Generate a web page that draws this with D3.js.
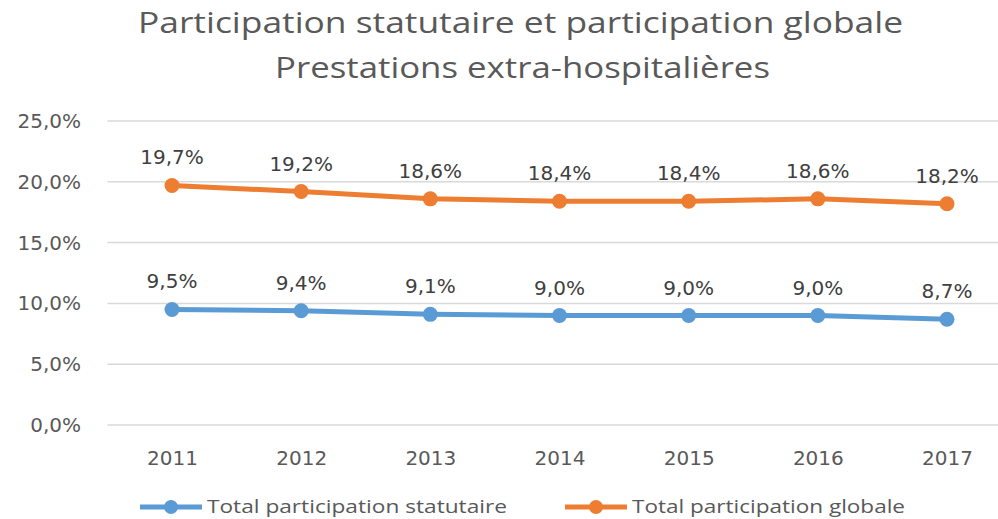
<!DOCTYPE html>
<html>
<head>
<meta charset="utf-8">
<script src="https://cdn.jsdelivr.net/npm/d3@7"></script>
<style>
  body { margin: 0; background: #fff; }
  svg { display: block; }
</style>
</head>
<body>
<div id="chart"></div>
<script>
// data
var years = ["2011", "2012", "2013", "2014", "2015", "2016", "2017"];
var statutaire = [9.5, 9.4, 9.1, 9.0, 9.0, 9.0, 8.7];
var globale = [19.7, 19.2, 18.6, 18.4, 18.4, 18.6, 18.2];
var yTicks = [0, 5, 10, 15, 20, 25];
var seriesNames = ["Total participation statutaire", "Total participation globale"];
var colors = ["#5B9BD5", "#ED7D31"];

var W = 998, H = 519;
var font = "'Open Sans', 'Noto Sans', sans-serif";
var numFont = "'DejaVu Sans', sans-serif";

var svg = d3.select("#chart").append("svg")
    .attr("width", W)
    .attr("height", H);

// title (picture is stretched sideways, so force the widths)
svg.append("text")
    .attr("x", 138).attr("y", 33)
    .attr("textLength", 765).attr("lengthAdjust", "spacingAndGlyphs")
    .style("font-family", font).style("font-size", "29px")
    .style("fill", "#595959")
    .text("Participation statutaire et participation globale");
svg.append("text")
    .attr("x", 275).attr("y", 78)
    .attr("textLength", 495).attr("lengthAdjust", "spacingAndGlyphs")
    .style("font-family", font).style("font-size", "29px")
    .style("fill", "#595959")
    .text("Prestations extra-hospitalières");

//scales
var x = d3.scalePoint()
    .domain(years)
    .range([172, 947]);
var step = x.step();

var y = d3.scaleLinear()
    .domain([0, 25])
    .range([425, 121]);

// grid lines
svg.append("g")
    .selectAll("line")
    .data(yTicks).enter()
    .append("line")
    .attr("x1", x(years[0]) - step / 2)
    .attr("x2", x(years[years.length - 1]) + step / 2)
    .attr("y1", function (d) { return y(d); })
    .attr("y2", function (d) { return y(d); })
    .style("stroke", "#d9d9d9")
    .style("stroke-width", 1.5);

var pct = function (d) { return d.toFixed(1).replace(".", ",") + "%"; };

// y axis labels
var yAxis = d3.axisLeft(y)
    .tickValues(yTicks)
    .tickSize(0)
    .tickPadding(0)
    .tickFormat(pct);
var gy = svg.append("g")
    .attr("transform", "translate(81,0)")
    .call(yAxis);
gy.select(".domain").remove();
gy.selectAll("text")
    .style("font-family", numFont).style("font-size", "20px")
    .style("fill", "#595959");

// x axis labels
var xAxis = d3.axisBottom(x).tickSize(0).tickPadding(0);
var gx = svg.append("g")
    .attr("transform", "translate(0,451)")
    .call(xAxis);
gx.select(".domain").remove();
gx.selectAll("text")
    .style("font-family", numFont).style("font-size", "20px")
    .style("fill", "#595959");

// lines + markers + labels
var allSeries = [statutaire, globale];
var line = d3.line()
    .x(function (d, i) { return x(years[i]); })
    .y(function (d) { return y(d); });

allSeries.forEach(function (vals, s) {
    svg.append("path")
        .datum(vals)
        .attr("d", line)
        .style("fill", "none")
        .style("stroke", colors[s])
        .style("stroke-width", 5)
        .style("stroke-linejoin", "round");

    svg.append("g").selectAll("circle")
        .data(vals).enter()
        .append("circle")
        .attr("cx", function (d, i) { return x(years[i]); })
        .attr("cy", function (d) { return y(d); })
        .attr("r", 7.5)
        .style("fill", colors[s]);

    svg.append("g").selectAll("text")
        .data(vals).enter()
        .append("text")
        .attr("x", function (d, i) { return x(years[i]); })
        .attr("y", function (d) { return y(d) - 21; })
        .attr("text-anchor", "middle")
        .style("font-family", numFont).style("font-size", "20px")
        .style("fill", "#404040")
        .text(pct);
});

// legend
var legendX = [140, 565];
var legendW = [300, 273];
seriesNames.forEach(function (name, s) {
    var g = svg.append("g").attr("transform", "translate(" + legendX[s] + ",507)");
    g.append("line")
        .attr("x1", 0).attr("x2", 62)
        .attr("y1", 0).attr("y2", 0)
        .style("stroke", colors[s]).style("stroke-width", 5);
    g.append("circle")
        .attr("cx", 31).attr("cy", 0).attr("r", 7)
        .style("fill", colors[s]);
    g.append("text")
        .attr("x", 67).attr("y", 6)
        .attr("textLength", legendW[s]).attr("lengthAdjust", "spacingAndGlyphs")
        .style("font-family", font).style("font-size", "19px")
        .style("fill", "#595959")
        .text(name);
});
</script>
</body>
</html>
